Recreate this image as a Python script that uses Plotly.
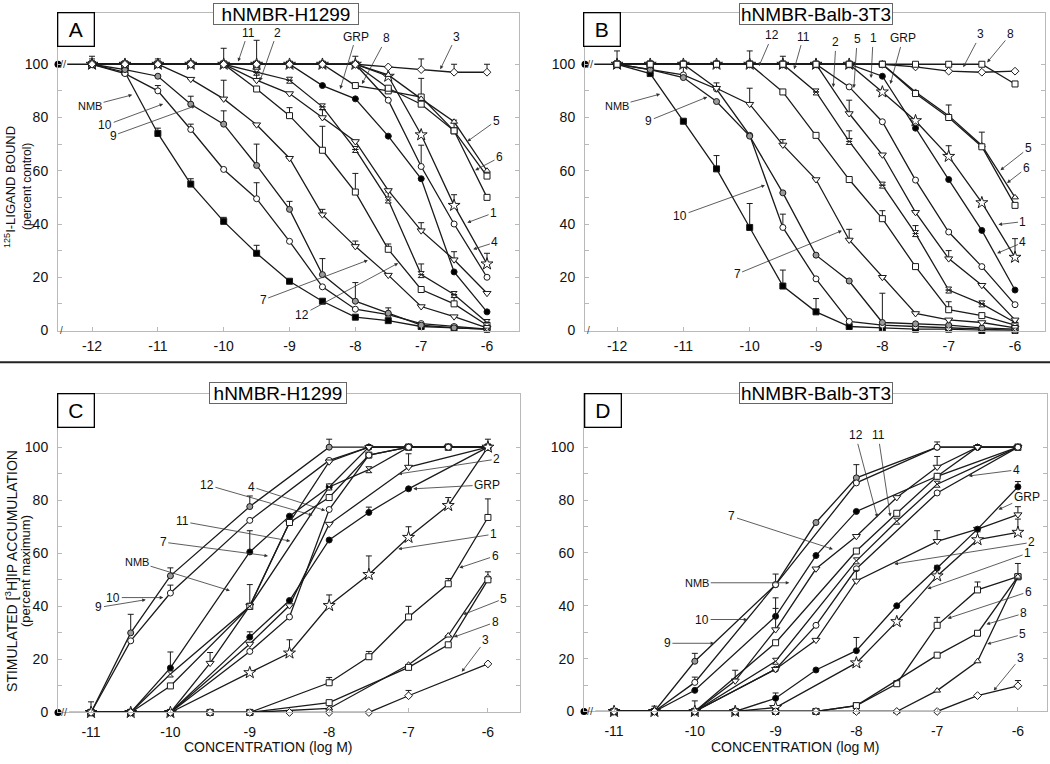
import plotly.graph_objects as go

N = None

# ── concentrations (log M) ───────────────────────────────
BIND_X = [-12, -11.5, -11, -10.5, -10, -9.5, -9, -8.5, -8, -7.5, -7, -6.5, -6]
PI_X = [-11, -10.5, -10, -9.5, -9, -8.5, -8, -7.5, -7, -6.5, -6]

Y_TICKS = [0, 10, 20, 30, 40, 50, 60, 70, 80, 90, 100]
Y_TICKTEXT = ["0", "", "20", "", "40", "", "60", "", "80", "", "100"]

# ── panel A: binding, hNMBR-H1299 (percent control) ─────
A_NMB = [100, 97, 74, 55, 41, 29, 18.5, 11, 5, 3.7, 1.5, 1, 0.5]
A_NMB_ERR = [3, N, 2, 2, 1.5, 3, N, N, N, N, N, N, N]
A_10 = [100, 96.5, 90, 75.5, 60.5, 49.5, 33.5, 16.4, 8, 6, 2.6, 1.5, 0.5]
A_10_ERR = [N, N, 2, 2, N, 6, N, N, N, N, N, N, N]
A_9 = [100, 98, 95.5, 85, 77.5, 62, 45.5, 21, 11, 6.5, 2, 1, 0.5]
A_9_ERR = [N, N, N, 3, 5, 8, 3, 6, 7, 2, N, N, N]
A_7 = [100, 100, 100, 94.4, 87, 77.3, 64.7, 43.5, 31.6, 20.8, 9, 5.2, 1]
A_7_ERR = [N, N, N, N, 7, N, N, 2, 2, N, N, N, N]
A_12 = [100, 100, 100, 100, 100, 90.7, 80.7, 67.7, 52, 30.5, 15.4, 10, 2]
A_12_ERR = [N, N, N, N, N, N, 3, 9, 7, 2, N, 3, N]
A_11 = [100, 100, 100, 100, 100, 97, 94, 84, 68, 49, 21, 13.5, 3]
A_11_ERR = [2, N, 2, N, 6, N, N, N, N, 3, 4, N, N]
A_2 = [100, 100, 100, 100, 100, 94, 89, 80, 71, 52.6, 37.5, 26.6, 14]
A_2_ERR = [N, N, N, N, N, 3, N, 3, N, N, 3, 3, N]
A_GRP = [100, 100, 100, 100, 100, 100, 100, 92, 87, 73, 57, 22, 7]
A_GRP_ERR = [N, N, N, N, N, 9, N, N, N, N, N, N, N]
A_1 = [100, 100, 100, 100, 100, 100, 100, 100, 100, 95.5, 73.5, 47, 25]
A_1_ERR = [N, N, N, N, N, N, N, N, 3, N, N, 4, 4]
A_4 = [100, 100, 100, 100, 100, 100, 100, 100, 100, 86.5, 61.6, 40, 20]
A_4_ERR = [N, N, N, N, N, N, N, N, N, N, 8, N, N]
A_8 = [100, 100, 100, 100, 100, 100, 100, 100, 92, 90, 87.7, 75, 58]
A_8_ERR = [N, N, N, N, N, N, N, N, N, N, 7, 4, N]
A_5 = [100, 100, 100, 100, 100, 100, 100, 100, 100, 96, 87, 78.4, 60]
A_6 = [100, 100, 100, 100, 100, 100, 100, 100, 100, 91, 85, 75, 50]
A_3 = [100, 100, 100, 100, 100, 100, 100, 100, 100, 99, 98, 97, 97]
A_3_ERR = [N, N, N, N, N, N, N, N, N, N, 4, 3, 3]

# ── panel B: binding, hNMBR-Balb-3T3 ─────────────────────
B_NMB = [100, 96.5, 78.6, 60.7, 38.7, 16.7, 7, 1.5, 1, 0.5, 0.5, 0, 0]
B_NMB_ERR = [N, N, N, 5, 9, 6, 5, N, N, N, N, N, N]
B_10 = [100, 98, 96, 90.7, 73.3, 38.7, 19.4, 3.4, 2, 1.5, 1, 0.5, 0]
B_10_ERR = [5, N, 4, N, N, 5, N, N, N, N, N, N, N]
B_9 = [100, 98, 95, 86, 73, 51.7, 28.3, 18.6, 3, 2.5, 2, 1, 0.5]
B_9_ERR = [N, N, N, N, N, N, N, N, 11, N, N, N, N]
B_7 = [100, 100, 100, 91, 85, 69.7, 56.7, 34, 20, 6.4, 4, 3, 1]
B_7_ERR = [N, N, N, 2, 6, 2, N, 4, N, N, N, N, N]
B_12 = [100, 100, 100, 100, 100, 89.6, 73.3, 56.7, 42, 24, 7.8, 5.6, 2]
B_12_ERR = [N, N, N, N, 5, N, N, N, 3, N, 3, N, N]
B_11 = [100, 100, 100, 100, 100, 100, 89.6, 71, 54.6, 36.4, 15.2, 10, 3]
B_11_ERR = [N, N, N, N, N, 3, N, 4, N, 3, N, N, N]
B_2 = [100, 100, 100, 100, 100, 100, 100, 81.5, 66, 44.4, 27, 17, 4]
B_2_ERR = [N, N, N, N, N, N, N, 5, N, N, 3, N, N]
B_5T = [100, 100, 100, 100, 100, 100, 100, 91.5, 78.4, 56.5, 37, 24, 9.7]
B_1 = [100, 100, 100, 100, 100, 100, 100, 100, 89.6, 78.8, 65.4, 48, 27.5]
B_1_ERR = [N, N, N, N, N, N, N, N, N, N, 4, N, 7]
B_GRP = [100, 100, 100, 100, 100, 100, 100, 100, 95.5, 76, 56.7, 37.6, 15.2]
B_5 = [100, 100, 100, 100, 100, 100, 100, 100, 100, 89.6, 80.7, 69.5, 50]
B_5_ERR = [N, N, N, N, N, N, N, N, N, N, 4, 5, N]
B_6 = [100, 100, 100, 100, 100, 100, 100, 100, 100, 89, 80, 69, 47]
B_3 = [100, 100, 100, 100, 100, 100, 100, 100, 100, 99, 97.4, 97, 97.4]
B_8 = [100, 100, 100, 100, 100, 100, 100, 100, 100, 100, 100, 100, 92.6]

# ── panel C: IP accumulation, hNMBR-H1299 (percent maximum) ─
C_9 = [0, 30, 51.5, N, 77.6, N, 100, 100, 100, 100, 100]
C_9_ERR = [N, 7, 3, N, 4, N, 3, N, N, N, N]
C_10 = [0, 27, 45, N, 72.4, N, 95, 100, 100, 100, 100]
C_10_ERR = [4, N, 3, N, N, N, N, N, N, N, N]
C_NMB = [0, 0, 16.8, N, 60.5, 74, 85, 100, 100, 100, 100]
C_NMB_ERR = [N, N, 6, N, 8, N, N, N, N, N, N]
C_7 = [0, 0, 0, 18.6, 40.2, 71.6, 94.5, 100, 100, 100, 100]
C_7_ERR = [N, N, N, 4, 8, N, N, N, N, N, N]
C_12 = [0, 0, 10, N, 40, 71.6, 81, 97, 100, 100, 100]
C_11 = [0, 0, 14.5, N, 40, N, 85, 91.5, 100, 100, 100]
C_4 = [0, 0, 0, N, 23, 36, 76.5, 97, 100, 100, 100]
C_GRP = [0, 0, 0, N, 28.4, 42.2, 65, 75.4, 84.3, N, 100]
C_GRP_ERR = [N, N, N, N, 2, N, N, 2, N, N, 3]
C_2 = [0, 0, 0, N, 25.8, 40.3, 71, N, 92.5, N, 100]
C_2_ERR = [N, N, N, N, N, N, N, N, 5, N, N]
C_1 = [0, 0, 0, N, 15, 22.4, 40.3, 52, 66, 78, 100]
C_1_ERR = [N, N, N, N, N, 5, 4, 7, 4, 3, N]
C_6 = [0, 0, 0, 0, 0, N, 11.2, 21, 36, 48.5, 73.5]
C_6_ERR = [N, N, N, N, N, N, 2, 2, 4, 2, 7]
C_5 = [0, 0, 0, 0, 0, N, 1.5, N, 18, 29, 51]
C_5_ERR = [N, N, N, N, N, N, N, N, N, N, 2]
C_8 = [0, 0, 0, 0, 0, N, 3.7, N, 17, 25.5, 50]
C_3 = [0, 0, 0, 0, 0, 0, 0, 0, 6.3, N, 18.3]
C_3_ERR = [N, N, N, N, N, N, N, N, 2, N, N]

# ── panel D: IP accumulation, hNMBR-Balb-3T3 ─────────────
D_9 = [0, 0, 19, N, 48, 71.5, 88.4, N, 100, 100, 100]
D_9_ERR = [N, N, 3, N, 4, N, 5, N, 2, N, N]
D_10 = [0, 0, 11, N, 48, N, 86.5, N, 100, 100, 100]
D_10_ERR = [N, N, 2, N, N, N, N, N, N, N, N]
D_NMB = [0, 0, 8, N, 36, 59, 75.7, N, 89, 100, 100]
D_NMB_ERR = [N, N, N, N, 3, N, N, N, N, N, N]
D_7 = [0, 0, 0, 11.6, 31, 54, 66.3, 81, 92.5, 100, 100]
D_7_ERR = [N, 2, 4, 4, 12, N, N, N, 4, N, N]
D_12 = [0, 0, 0, N, 26, N, 60.7, 75, 89, N, 100]
D_11 = [0, 0, 0, N, 19, N, 57, 72, 86, N, 100]
D_4 = [0, 0, 0, N, 16, 32.6, 54, N, 82.7, N, 100]
D_2 = [0, 0, 0, N, 16, 27, 49.4, N, 64.4, 69, 74.5]
D_2_ERR = [N, N, N, N, N, N, 4, N, 4, N, 3]
D_GRP = [0, 0, 0, 0, 5, 15.7, 23, 40, 54.3, 69, 85]
D_GRP_ERR = [N, N, N, N, 2, N, 5, N, N, N, 2]
D_1 = [0, 0, 0, 0, 1.5, N, 18.4, 34, 51.3, 65, 67.8]
D_1_ERR = [N, N, N, N, N, N, N, N, 4, 3, 5]
D_6 = [0, 0, 0, 0, 0, 0, 2.2, 10.5, 32.6, 46, 51]
D_6_ERR = [N, N, N, N, N, N, N, N, 3, 3, 5]
D_8 = [0, 0, 0, 0, 0, 0, 2.2, N, 21.3, 29.6, 51]
D_5 = [0, 0, 0, 0, 0, 0, 0, 0, 7.9, 19, 51]
D_3 = [0, 0, 0, 0, 0, 0, 0, 0, 0, 6, 9.7]
D_3_ERR = [N, N, N, N, N, N, N, N, N, N, 2]

# ── style ────────────────────────────────────────────────
W, H = 1050, 764
FONT = "Arial, 'Liberation Sans', sans-serif"
INK = "#1a1a1a"
AXIS = "#b9b9b9"

SYMBOL = {
    "NMB": ("square", "black", 6), "GRP": ("circle", "black", 6),
    "1": ("star", "white", 9), "2": ("triangle-down", "white", 7),
    "3": ("diamond", "white", 6), "4": ("circle", "white", 6),
    "5": ("triangle-up", "white", 6), "5t": ("circle", "white", 6),
    "6": ("square", "white", 6), "7": ("triangle-down", "white", 7),
    "8": ("square", "white", 6), "9": ("circle", "#9a9a9a", 6),
    "10": ("circle", "white", 6), "11": ("hourglass", "white", 6),
    "12": ("square", "white", 6),
}

# arrows: (text, tip x, tip y, text x, text y) in data units
A_LABELS = [
    ("11", -9.78, 101, -9.63, 111.9), ("2", -9.45, 93.7, -9.19, 111.9),
    ("GRP", -8.23, 90.7, -7.99, 110.4), ("8", -7.9, 92.6, -7.53, 109.7),
    ("3", -6.71, 98.1, -6.47, 110.4), ("NMB", -11.39, 88.5, -12.03, 84.4),
    ("10", -10.92, 85.1, -11.8, 77), ("9", -10.43, 84.4, -11.68, 73.2),
    ("5", -6.3, 71, -5.86, 78.8), ("6", -6.18, 60.2, -5.81, 65),
    ("1", -6.3, 40.5, -5.9, 44.2), ("4", -6.21, 30.5, -5.88, 33.1),
    ("7", -7.81, 26.4, -9.4, 11.5), ("12", -7.35, 25.3, -8.81, 5.9),
]
B_LABELS = [
    ("12", -9.86, 99.3, -9.66, 110.8), ("11", -9.33, 98.1, -9.19, 110.4),
    ("2", -8.74, 91.4, -8.7, 108.2), ("5", -8.43, 91.1, -8.38, 109.3),
    ("1", -8.17, 94.8, -8.14, 109.7), ("GRP", -7.88, 92.6, -7.69, 109.7),
    ("3", -6.78, 98.9, -6.52, 111.2), ("8", -6.42, 100.7, -6.07, 111.2),
    ("NMB", -11.35, 88.8, -12.0, 84.4), ("9", -10.64, 87.7, -11.52, 78.8),
    ("10", -9.77, 54.6, -11.05, 43.1), ("7", -8.61, 37.5, -10.19, 21.2),
    ("5", -6.22, 60.2, -5.8, 68.4), ("6", -6.12, 55.4, -5.83, 61),
    ("1", -6.25, 39.8, -5.88, 40.9), ("4", -6.27, 29, -5.88, 33.1),
]
C_LABELS = [
    ("12", -8.21, 74.3, -9.54, 85.8), ("4", -8.05, 76.1, -8.98, 85.1),
    ("11", -8.49, 64.6, -9.85, 72), ("7", -8.77, 59, -10.09, 64.2),
    ("NMB", -9.25, 45.9, -10.42, 56.7), ("10", -10.09, 43.3, -10.72, 43.3),
    ("9", -10.31, 42.5, -10.9, 39.6), ("2", -7.13, 89.9, -5.89, 95.5),
    ("GRP", -6.94, 84.3, -6.01, 85.8), ("1", -7.13, 61.6, -5.93, 67.2),
    ("6", -6.36, 54.5, -5.91, 59), ("5", -6.31, 36.9, -5.8, 42.9),
    ("8", -6.43, 28.4, -5.91, 34), ("3", -6.33, 15.3, -6.03, 27.2),
]
D_LABELS = [
    ("7", -8.29, 61.4, -9.54, 73.8), ("NMB", -8.83, 48.7, -9.97, 48.7),
    ("10", -9.35, 34.8, -9.91, 34.8), ("9", -9.76, 25.8, -10.34, 25.8),
    ("12", -7.74, 73.4, -8.01, 104.5), ("11", -7.58, 73.8, -7.73, 104.5),
    ("4", -6.61, 89.1, -6.02, 91.4), ("GRP", -6.24, 76.4, -5.89, 81.3),
    ("2", -7.53, 55.8, -5.83, 64), ("1", -7.12, 46.4, -5.88, 59.9),
    ("6", -6.87, 35.2, -5.87, 45.3), ("8", -6.39, 33, -5.93, 37.1),
    ("5", -6.38, 25.5, -5.94, 29.2), ("3", -6.3, 7.9, -5.97, 20.2),
]

PANELS = [
    dict(n=1, xs=BIND_X, ctrl=100, letter="A", title="hNMBR-H1299", labels=A_LABELS,
         box=(58, 13, 519, 334), xr=(-12.517, -5.514), yr=(0, 119.3), xstand=3,
         letter_box=(57, 13, 94, 47), title_box=(213, 3, 359, 25),
         series=[("NMB", A_NMB, A_NMB_ERR), ("10", A_10, A_10_ERR), ("9", A_9, A_9_ERR),
                 ("7", A_7, A_7_ERR), ("12", A_12, A_12_ERR), ("11", A_11, A_11_ERR),
                 ("2", A_2, A_2_ERR), ("GRP", A_GRP, A_GRP_ERR), ("1", A_1, A_1_ERR),
                 ("4", A_4, A_4_ERR), ("8", A_8, A_8_ERR), ("5", A_5, None),
                 ("6", A_6, None), ("3", A_3, A_3_ERR)]),
    dict(n=2, xs=BIND_X, ctrl=100, letter="B", title="hNMBR-Balb-3T3", labels=B_LABELS,
         box=(585, 13, 1045, 334), xr=(-12.483, -5.548), yr=(0, 119.3), xstand=3,
         letter_box=(583, 13, 620, 47), title_box=(739, 3, 893, 25),
         series=[("NMB", B_NMB, B_NMB_ERR), ("10", B_10, B_10_ERR), ("9", B_9, B_9_ERR),
                 ("7", B_7, B_7_ERR), ("12", B_12, B_12_ERR), ("11", B_11, B_11_ERR),
                 ("2", B_2, B_2_ERR), ("5t", B_5T, None), ("1", B_1, B_1_ERR),
                 ("GRP", B_GRP, None), ("5", B_5, B_5_ERR), ("6", B_6, None),
                 ("3", B_3, None), ("8", B_8, None)]),
    dict(n=3, xs=PI_X, ctrl=0, letter="C", title="hNMBR-H1299", labels=C_LABELS,
         box=(58, 398, 520, 720), xr=(-11.416, -5.596), yr=(0, 120.1), xstand=7,
         letter_box=(57, 398, 94, 432), title_box=(209, 386, 347, 408),
         series=[("9", C_9, C_9_ERR), ("10", C_10, C_10_ERR), ("NMB", C_NMB, C_NMB_ERR),
                 ("7", C_7, C_7_ERR), ("12", C_12, None), ("11", C_11, None),
                 ("4", C_4, None), ("GRP", C_GRP, C_GRP_ERR), ("2", C_2, C_2_ERR),
                 ("1", C_1, C_1_ERR), ("6", C_6, C_6_ERR), ("5", C_5, C_5_ERR),
                 ("8", C_8, None), ("3", C_3, C_3_ERR)]),
    dict(n=4, xs=PI_X, ctrl=0, letter="D", title="hNMBR-Balb-3T3", labels=D_LABELS,
         box=(584, 398, 1047, 719), xr=(-11.372, -5.64), yr=(0, 120.2), xstand=7,
         letter_box=(584, 398, 621, 432), title_box=(739, 386, 893, 408),
         series=[("9", D_9, D_9_ERR), ("10", D_10, D_10_ERR), ("NMB", D_NMB, D_NMB_ERR),
                 ("7", D_7, D_7_ERR), ("12", D_12, None), ("11", D_11, None),
                 ("4", D_4, None), ("2", D_2, D_2_ERR), ("GRP", D_GRP, D_GRP_ERR),
                 ("1", D_1, D_1_ERR), ("6", D_6, D_6_ERR), ("8", D_8, None),
                 ("5", D_5, None), ("3", D_3, D_3_ERR)]),
]


def px_box(box):
    l, t, r, b = box
    return dict(x=(l + r) / 2 / W, y=1 - (t + b) / 2 / H, width=r - l - 4, height=b - t - 4)


def paper_text(px, py, text, size, angle=0):
    return dict(xref="paper", yref="paper", x=px / W, y=1 - py / H, xanchor="center",
                yanchor="middle", textangle=angle, showarrow=False, text=text,
                font=dict(size=size, color="#111"))


fig = go.Figure()
annotations = []

for p in PANELS:
    sx = "" if p["n"] == 1 else str(p["n"])
    xa, ya = "x" + sx, "y" + sx
    l, t, r, b = p["box"]
    xs = p["xs"]
    fig.update_layout({
        "xaxis" + sx: dict(domain=[l / W, r / W], range=list(p["xr"]), anchor=ya,
                           tickvals=[v for v in xs if v == int(v)], ticktext=[str(int(v)) for v in xs if v == int(v)],
                           ticks="inside", ticklen=4, tickcolor=AXIS, showline=True, linecolor=AXIS,
                           linewidth=1, mirror=True, showgrid=False, zeroline=False,
                           tickfont=dict(size=14, color="#111"), ticklabelstandoff=p["xstand"]),
        "yaxis" + sx: dict(domain=[1 - b / H, 1 - t / H], range=list(p["yr"]), anchor=xa,
                           tickvals=Y_TICKS, ticktext=Y_TICKTEXT,
                           ticks="inside", ticklen=4, tickcolor=AXIS, showline=True, linecolor=AXIS,
                           linewidth=1, mirror="ticks", showgrid=False, zeroline=False,
                           tickfont=dict(size=14, color="#111"), ticklabelstandoff=6),
    })

    x0 = p["xr"][0]
    # control value drawn at the broken axis
    fig.add_trace(go.Scatter(x=[x0 + 0.14, xs[0]], y=[p["ctrl"], p["ctrl"]], xaxis=xa, yaxis=ya,
                             mode="lines", line=dict(color=INK, width=1.6), showlegend=False,
                             cliponaxis=False, hoverinfo="skip"))
    fig.add_trace(go.Scatter(x=[x0], y=[p["ctrl"]], xaxis=xa, yaxis=ya, mode="markers",
                             marker=dict(symbol="circle", size=7, color="black"),
                             showlegend=False, cliponaxis=False, hoverinfo="skip"))
    annotations.append(dict(x=x0 + 0.08, y=p["ctrl"], xref=xa, yref=ya, text="//", showarrow=False,
                            font=dict(size=11, color="#444")))
    if p["ctrl"] == 100:
        annotations.append(dict(x=x0 + 0.06, y=0, xref=xa, yref=ya, text="/", showarrow=False,
                                font=dict(size=10, color="#444")))

    for name, ys, err in p["series"]:
        sym, fill, size = SYMBOL[name]
        if p["n"] >= 3 and name == "NMB":
            sym = "circle"
        err_y = None
        if err is not None:
            err_y = dict(type="data", array=err, arrayminus=[0] * len(err), symmetric=False,
                         thickness=1, width=3, color=INK)
        fig.add_trace(go.Scatter(
            x=xs, y=ys, xaxis=xa, yaxis=ya, mode="lines+markers", connectgaps=True,
            line=dict(color=INK, width=1.3),
            marker=dict(symbol=sym, size=size, color=fill, line=dict(color=INK, width=1)),
            error_y=err_y, showlegend=False, cliponaxis=False, name=name))

    for text, tx, ty, lx, ly in p["labels"]:
        annotations.append(dict(x=tx, y=ty, ax=lx, ay=ly, xref=xa, yref=ya, axref=xa, ayref=ya,
                                text=text, showarrow=True, arrowhead=2, arrowsize=0.9,
                                arrowwidth=0.8, arrowcolor="#333", standoff=0,
                                font=dict(size=11 if text == "NMB" else 12, color="#111")))

    lb = px_box(p["letter_box"])
    annotations.append(dict(xref="paper", yref="paper", x=lb["x"], y=lb["y"], xanchor="center",
                            yanchor="middle", width=lb["width"], height=lb["height"],
                            text=p["letter"], showarrow=False, bgcolor="white",
                            bordercolor="black", borderwidth=1.3, borderpad=1,
                            font=dict(size=21, color="black")))
    tb = px_box(p["title_box"])
    annotations.append(dict(xref="paper", yref="paper", x=tb["x"], y=tb["y"], xanchor="center",
                            yanchor="middle", width=tb["width"], height=tb["height"],
                            text=p["title"], showarrow=False, bgcolor="white",
                            bordercolor="#666", borderwidth=1, borderpad=1,
                            font=dict(size=19, color="black")))

# axis titles
annotations += [
    paper_text(10, 189, "<sup>125</sup>I-LIGAND BOUND", 13, -90),
    paper_text(27, 189, "(percent control)", 12, -90),
    paper_text(11, 577, "STIMULATED [<sup>3</sup>H]IP ACCUMULATION", 14, -90),
    paper_text(26, 577, "(percent maximum)", 13, -90),
    paper_text(268, 755, "CONCENTRATION (log M)", 14),
    paper_text(795, 755, "CONCENTRATION (log M)", 14),
]

fig.update_layout(
    width=W, height=H, margin=dict(l=0, r=0, t=0, b=0),
    paper_bgcolor="white", plot_bgcolor="white",
    font=dict(family=FONT, color="#111"),
    annotations=annotations,
    shapes=[dict(type="line", xref="paper", yref="paper", x0=0, x1=1,
                 y0=1 - 366 / H, y1=1 - 366 / H, line=dict(color="#222", width=2))],
)

fig.write_html(
    "out.html",
    config={"displayModeBar": False},
    post_script=("document.body.style.margin='0';"
                 "document.body.style.overflow='hidden';"
                 "document.documentElement.style.overflow='hidden';"),
)
